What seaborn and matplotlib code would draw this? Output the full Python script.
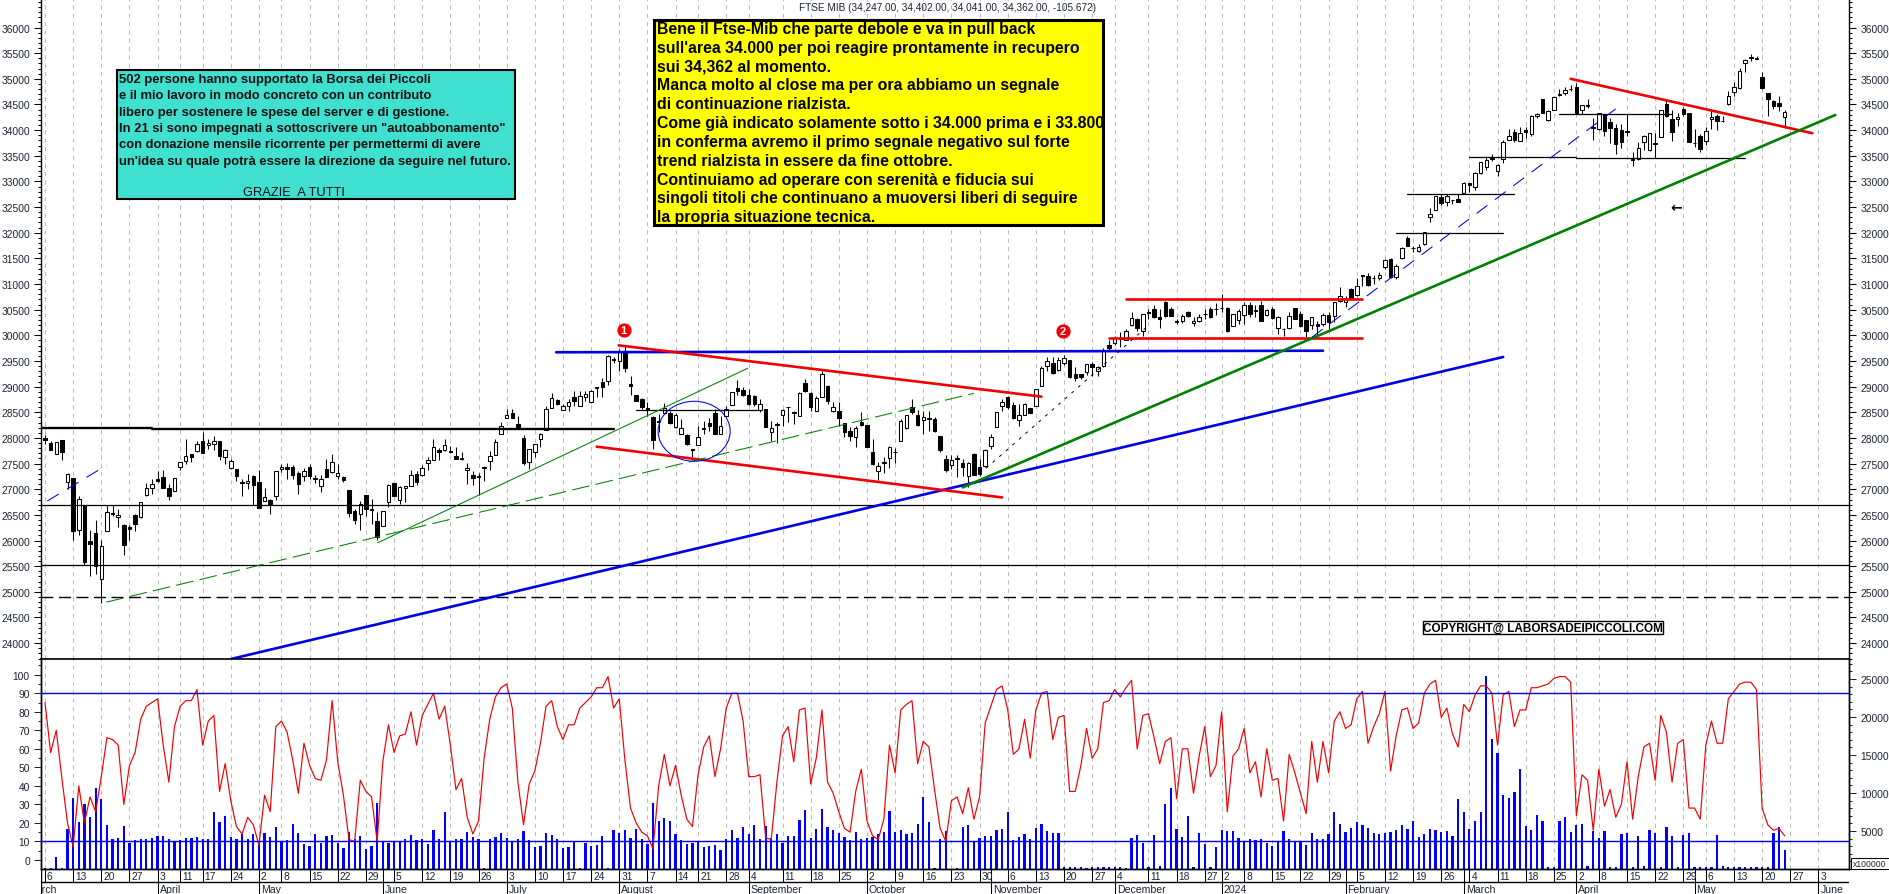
import pandas as pd
import seaborn as sns
from matplotlib import pyplot as plt
from matplotlib.patches import Ellipse, Rectangle
from matplotlib.ticker import MultipleLocator, FixedLocator

W, H = 1890, 895

# candles
opens = [27990,27900,27680,27960,27140,27210,26210,26690,25990,26150,
         25260,26190,26540,26460,26300,26270,26490,26460,26880,27020,
         27190,27245,27030,26965,27435,27545,27680,27740,27950,27860,
         27880,27935,27630,27410,27400,27140,27130,27250,27150,26780,
         26790,26870,27390,27440,27440,27320,27260,27440,27220,27060,
         27400,27340,27260,27245,26980,26580,26520,26880,26610,26390,
         26280,26750,27115,26790,27030,27060,27290,27280,27520,27570,
         27760,27770,27745,27650,27610,27380,27270,27265,27430,27550,
         27665,28085,28395,28495,28280,27990,27530,27730,27985,28160,
         28590,28745,28545,28620,28805,28630,28805,28700,28995,29100,
         29115,29540,29500,29700,29050,28840,28760,28580,28400,28330,
         28490,28480,28220,28080,28065,27780,27870,28190,28285,28480,
         28070,28435,28640,28975,28935,28830,28810,28550,28560,28110,
         28265,28450,28605,28505,28435,29070,28870,28530,28805,29005,
         28530,28525,28290,28135,28025,28310,28250,27720,27360,27530,
         27615,27735,27945,28185,28600,28450,28355,28385,28360,28040,
         27590,27465,27605,27520,27265,27680,27430,27445,27850,28220,
         28630,28805,28650,28355,28450,28580,28630,29020,29410,29460,
         29330,29465,29520,29255,29240,29290,29440,29310,29410,29820,
         29845,29945,29915,30210,30320,30090,30450,30515,30350,30645,
         30515,30270,30275,30450,30240,30285,30420,30515,30520,30535,
         30530,30190,30300,30400,30600,30485,30600,30400,30515,30150,
         30130,30135,30530,30420,30295,30205,30220,30215,30400,30385,
         30670,30645,30905,30795,31170,31165,31120,31120,31330,31490,
         31145,31500,31890,31705,31650,31775,32300,32435,32700,32595,
         32645,32655,32775,32960,32890,33160,33290,33455,33200,33440,
         33815,33960,33785,34005,33930,34270,34610,34200,34390,34705,
         34720,34810,34845,34395,34485,34060,34025,34305,34155,34045,
         34010,33980,33440,33430,33765,33615,33745,33875,34505,34220,
         34215,34415,34335,33755,33880,33780,34210,34285,34180,34510,
         34735,34820,35300,35425,35415,35030,34720,34565,34525,34247]
closes = [27960,27760,27920,27730,27290,26190,26810,25580,25930,25500,
          25890,26560,26510,26500,25910,26220,26330,26750,27030,27110,
          27170,27030,26870,27225,27530,27650,27620,27890,27700,27910,
          27950,27650,27760,27555,27260,27115,27170,27090,26640,26845,
          26720,27360,27440,27400,27285,27100,27360,27260,27195,27205,
          27240,27530,27320,27185,26530,26410,26720,26610,26590,26070,
          26580,27090,26870,27040,27060,27285,27140,27420,27575,27820,
          27730,27865,27730,27590,27585,27420,27225,27245,27410,27650,
          27925,28235,28455,28395,28220,27510,27790,27890,28075,28560,
          28780,28660,28630,28705,28715,28820,28860,28920,28970,28990,
          29600,29520,29700,29370,29010,28725,28600,28570,27965,28310,
          28575,28290,28440,28185,27880,27760,28010,28180,28240,28085,
          28230,28565,28890,28920,28840,28660,28655,28670,28220,28185,
          28245,28535,28595,28495,28885,28915,28600,28780,29240,28725,
          28595,28395,28120,28040,28185,28260,27830,27490,27460,27520,
          27830,27725,28335,28445,28510,28250,28400,28375,28130,27760,
          27380,27565,27595,27440,27520,27280,27300,27760,28010,28500,
          28695,28600,28380,28440,28655,28490,28950,29360,29490,29270,
          29520,29550,29180,29175,29180,29435,29375,29380,29690,29750,
          29940,29930,30090,30330,30135,30415,30430,30350,30320,30370,
          30385,30260,30385,30385,30285,30350,30410,30350,30510,30525,
          30080,30415,30470,30595,30420,30475,30270,30495,30330,30350,
          30120,30375,30320,30190,30090,30350,30175,30400,30255,30645,
          30760,30710,30725,30970,31160,30985,31110,31180,31465,31130,
          31350,31710,31735,31695,31715,32020,32360,32710,32575,32710,
          32635,32590,32965,32935,33160,33375,33425,33435,33325,33765,
          33895,33800,33940,33955,34285,34320,34340,34375,34640,34675,
          34785,34800,34335,34485,34475,34040,34330,33980,34040,33720,
          33765,33970,33420,33650,33895,33935,33720,34385,34285,33960,
          34265,34320,33760,33745,33635,33990,34265,34180,34170,34660,
          34840,35160,35375,35415,35395,34825,34610,34475,34465,34362]
highs = [28050,27940,27920,27960,27320,27210,26860,26690,26200,26400,
         26020,26690,26690,26620,26320,26300,26510,26750,27115,27190,
         27355,27370,27100,27225,27530,27975,27690,27940,28120,27970,
         28040,27935,27780,27580,27400,27190,27290,27270,27370,27020,
         26810,27360,27485,27520,27480,27350,27420,27500,27280,27280,
         27580,27680,27500,27260,26980,26610,26770,26880,26810,26555,
         26580,27100,27115,27060,27060,27370,27350,27470,27630,27975,
         27800,27975,27850,27830,27720,27520,27360,27320,27450,27750,
         27985,28320,28560,28570,28420,28050,27790,27890,28100,28620,
         28880,28760,28660,28750,28915,28915,28915,28925,28995,29165,
         29610,29580,29730,29820,29200,28840,28775,28710,28430,28460,
         28690,28530,28480,28360,28080,27780,28225,28330,28380,28565,
         28430,28630,28890,29130,28985,28955,28840,28760,28560,28335,
         28305,28565,28610,28530,28900,29150,28890,28825,29310,29030,
         28705,28695,28290,28205,28235,28500,28250,27980,27525,27620,
         27850,27810,28365,28445,28760,28540,28530,28530,28400,28040,
         27660,27660,27670,27590,27540,27700,27590,27785,28085,28500,
         28760,28825,28695,28660,28680,28580,28950,29410,29585,29570,
         29570,29615,29520,29380,29255,29440,29475,29410,29745,29900,
         29995,30060,30120,30460,30330,30425,30515,30590,30515,30660,
         30545,30310,30415,30470,30350,30415,30515,30545,30640,30800,
         30545,30415,30515,30650,30650,30600,30675,30515,30550,30385,
         30140,30450,30530,30470,30295,30350,30285,30430,30450,30645,
         30940,30775,30920,31110,31170,31210,31170,31230,31490,31500,
         31400,31720,31945,31750,31780,32020,32480,32710,32755,32755,
         32645,32755,32985,32965,33180,33385,33505,33530,33345,33810,
         34025,34025,34055,34055,34300,34340,34610,34385,34660,34805,
         34835,34870,34910,34490,34610,34240,34335,34320,34240,34125,
         34125,34320,33580,33765,33910,33945,33945,34400,34580,34385,
         34335,34450,34335,34025,33925,34055,34415,34320,34270,34770,
         34935,35205,35390,35485,35440,35140,34725,34595,34660,34402]
lows = [27880,27760,27680,27570,27000,26010,26100,25530,25300,25350,
        24790,26190,26470,26260,25720,26020,26190,26440,26870,26900,
        27140,27030,26800,26965,27370,27490,27530,27720,27700,27780,
        27760,27570,27490,27400,27170,26870,27010,26700,26640,26780,
        26510,26800,27330,27205,27200,26900,27160,27200,27120,26945,
        27240,27320,27190,27140,26460,26315,26205,26480,26320,26020,
        26280,26650,26870,26710,26760,27060,27090,27260,27370,27570,
        27570,27745,27710,27590,27570,27095,27080,26880,27170,27370,
        27665,28085,28390,28380,28200,27480,27390,27630,27830,28160,
        28590,28650,28545,28520,28620,28620,28715,28680,28790,28800,
        29040,29465,29310,29290,28845,28725,28565,28430,27780,28110,
        28480,28270,28200,28070,27870,27620,27870,28070,28130,28080,
        28070,28435,28640,28840,28825,28640,28630,28500,28205,27945,
        27900,28240,28320,28280,28435,28890,28520,28530,28790,28660,
        28500,28240,28010,27950,27830,28240,27815,27480,27180,27320,
        27420,27510,27945,28175,28465,28240,28075,28135,28125,27735,
        27330,27400,27230,27265,27050,27270,27265,27430,27785,28205,
        28530,28565,28370,28225,28440,28480,28630,29005,29305,29255,
        29310,29430,29165,29110,29140,29225,29210,29200,29390,29705,
        29820,29765,29915,30180,30090,29990,30320,30330,30150,30350,
        30370,30220,30240,30350,30190,30255,30320,30330,30400,30450,
        30060,30180,30220,30230,30355,30350,30270,30385,30320,30025,
        29990,30130,30310,30160,29960,30125,29990,30190,30125,30255,
        30645,30560,30710,30775,30970,30970,31000,31070,31295,31115,
        31100,31490,31735,31620,31620,31770,32215,32435,32550,32530,
        32560,32590,32755,32790,32840,33150,33230,33390,33110,33360,
        33800,33765,33780,33850,33890,34240,34325,34185,34390,34660,
        34690,34755,34335,34320,34440,33810,34010,33895,33745,33540,
        33660,33895,33310,33410,33610,33600,33460,33875,34265,33790,
        34090,34285,33760,33665,33570,33715,34025,34000,34165,34490,
        34660,34805,35130,35340,35390,34805,34285,34410,34380,34041]

# oscillator and volume, one value per bar
oscillator = [85,58,70,44,20,7,40,20,34,26,45,66,65,62,30,51,58,76,83,85,
              87,62,42,72,83,86,86,92,62,75,78,37,52,32,18,14,23,19,8,35,
              26,72,75,69,54,36,63,51,44,43,54,86,53,35,11,10,43,37,34,10,
              53,73,58,67,68,80,62,78,84,90,76,83,62,38,44,23,14,21,55,76,
              88,93,95,82,42,19,41,48,63,83,86,72,65,73,73,82,85,88,93,93,
              99,82,87,54,
              28,20,15,13,6,40,57,40,51,35,22,18,46,61,67,45,60,82,90,90,
              75,45,45,46,12,11,42,67,72,53,81,82,41,55,81,42,36,26,17,15,
              37,49,21,13,11,22,62,47,81,84,86,52,64,61,38,17,10,32,34,25,
              39,22,34,74,83,92,94,81,57,60,76,55,81,90,91,65,77,78,37,37,
              51,71,55,60,85,86,92,88,93,97,60,78,79,66,52,64,66,33,60,60,
              36,56,72,45,51,80,26,56,60,71,47,53,34,
              60,43,44,21,57,47,36,25,64,42,64,47,75,80,71,73,87,91,63,72,
              79,91,48,67,81,82,71,74,90,95,97,77,82,68,61,84,80,89,94,94,
              90,62,89,91,72,81,81,93,93,94,95,98,99,99,96,24,46,43,16,49,
              29,38,23,30,53,22,45,61,63,43,78,69,42,63,65,28,28,22,62,75,
              63,63,87,91,95,96,96,92,28,19,16,17,13]
volume = [90,90,1635,130,5300,9400,6200,8600,6900,10700,
          9150,5830,3900,4070,5660,3450,3800,3930,3930,4100,
          4380,4290,3980,3710,3800,4110,4070,4240,3980,3980,
          7560,6190,7030,4240,3980,4640,3980,4640,3400,4770,
          4240,5570,3620,3800,5970,4770,3320,3050,4640,3360,
          4380,4510,3450,2790,4860,3890,4330,2650,3010,8710,
          3670,3450,3670,3620,3890,4420,3800,3980,3320,5130,
          3980,7510,3620,3930,3930,4860,4240,3980,90,3930,
          4200,4770,4070,3620,3890,4990,3800,2920,3090,4730,
          4510,3980,2790,2870,3620,90,3360,3090,3180,4380,
          90,5130,4770,5130,
          4110,5220,3980,3320,8620,6360,6720,6360,4550,3760,
          3320,3450,3670,2960,3010,3180,2520,3980,5170,4110,
          5570,4640,5790,3980,5700,4110,4640,3450,4380,4380,
          6450,7780,4110,5300,7960,5530,5170,4770,4200,3800,
          4910,3930,4110,4240,4640,4910,7690,4910,5170,4640,
          4770,5970,9410,6230,90,3980,4950,0,90,5570,
          5830,3670,4110,4380,4330,5170,5300,7510,3850,4240,
          4600,3930,5440,5920,5040,4770,4770,265,265,265,
          220,180,220,265,220,220,220,265,180,4070,
          4420,3400,220,4510,350,8570,10610,5260,4200,6980,
          220,4770,3320,220,2920,5170,4990,4990,4110,3710,
          3930,3800,3980,
          3400,3090,3670,5040,3980,3620,3540,3180,4770,3980,
          3930,4640,7510,5970,4820,5440,6230,5790,5390,4770,
          4640,4770,4910,5170,5830,5300,6320,4200,4600,5300,
          5170,4910,5040,4330,9240,7510,5300,6320,7510,25400,
          17100,15250,9770,9280,10080,13130,5660,5130,7160,6360,
          265,265,6360,6900,4910,5830,5970,350,5040,4110,
          4990,265,265,4640,4770,220,4380,400,5170,4770,
          265,5570,4380,220,4420,4770,265,265,265,265,
          4460,350,265,265,265,265,265,265,265,220,
          4770,5570,2470]

# date axis, ticks given as bar numbers
week_bars = [0,5,10,15,20,24,28,33,38,42,47,52,57,62,67,72,77,82,87,92,97,102,
             107,112,116,121,125,131,136,141,146,151,156,161,166,171,176,181,186,190,196,201,206,209,213,
             218,223,228,233,238,243,248,253,258,263,268,272,276,281,286,291,295,300,305,310,315]
week_labels = ['6','13','20','27','3','11','17','24','2','8','15','22','29','5','12','19','26','3','10','17','24','31',
               '7','14','21','28','4','11','18','25','2','9','16','23','30','6','13','20','27','4','11','18','27','2','8',
               '15','22','29','5','12','19','26','4','11','18','25','2','8','15','22','29','6','13','20','27','3']
month_bars = [2,20,38,60,82,102,125,146,168,190,209,231,252,272,293,315]
month_labels = ['March','April','May','June','July','August','September','October','November','December',
                '2024','February','March','April','May','June']
price_ticks = list(range(24000, 36001, 500))
osc_ticks = list(range(0, 101, 10))
vol_ticks = [5000, 10000, 15000, 20000, 25000]

# drawn lines: (bar, price, bar, price)
black_levels = [26700, 25520]
dashed_level = [24905]
resistance_black = [(-0.71,28190,19,28190),(19,28170,101,28170)]
short_black = [(105,28545,127,28545),(240,31990,259,31990),(242,32750,261,32750),
               (253,33470,272,33470),(272,33450,302,33450),(269,34310,289,34310)]
blue_thick = [(33,23690,259,29578),(90.8,29670,227,29700)]
red_thick = [(101.9,29805,177,28805),(98,27830,170,26840),(192,30710,234,30710),
             (189,29950,234,29950),(271,35000,313.9,33940)]
green_thick = [(163,27036,318,34295)]
green_thin = [(59.1,25957,124.8,29357)]
green_dashed = [(10.9,24800,165,28870)]
blue_dashed = [(0.4,26770,10.9,27465),(225,29960,279,34415)]
black_dotted = [(166,27296,195.6,30155)]

title = 'FTSE MIB (34,247.00, 34,402.00, 34,041.00, 34,362.00, -105.672)'
yellow_text = ["Bene il Ftse-Mib che parte debole e va in pull back",
               "sull'area 34.000 per poi reagire prontamente in recupero",
               "sui 34,362 al momento.",
               "Manca molto al close ma per ora abbiamo un segnale",
               "di continuazione rialzista.",
               "Come già indicato solamente sotto i 34.000 prima e i 33.800",
               "in conferma avremo il primo segnale negativo sul forte",
               "trend rialzista in essere da fine ottobre.",
               "Continuiamo ad operare con serenità e fiducia sui",
               "singoli titoli che continuano a muoversi liberi di seguire",
               "la propria situazione tecnica."]
teal_text = ["502 persone hanno supportato la Borsa dei Piccoli",
             "e il mio lavoro in modo concreto con un contributo",
             "libero per sostenere le spese del server e di gestione.",
             'In 21 si sono impegnati a sottoscrivere un "autoabbonamento"',
             "con donazione mensile ricorrente per permettermi di avere",
             "un'idea su quale potrà essere la direzione da seguire nel futuro."]

sns.set_style('white')
plt.rcParams['font.family'] = ['Liberation Sans', 'DejaVu Sans']
TXT = '#1c2436'

bars = list(range(len(opens)))
candles = pd.DataFrame({'bar': bars, 'open': opens, 'close': closes, 'high': highs, 'low': lows})
lower = pd.DataFrame({'bar': bars, 'osc': oscillator, 'vol': volume})

fig = plt.figure(figsize=(W / 100, H / 100), dpi=100, facecolor='white')
ax = fig.add_axes([41 / W, 1 - 660 / H, 1808 / W, 660 / H])
ax_vol = fig.add_axes([41 / W, 1 - 870 / H, 1808 / W, 210 / H])
ax_dates = fig.add_axes([41 / W, 0, 1808 / W, 25 / H])
xlim = (-0.71, 320.43)

# grid goes under everything
for a in (ax, ax_vol):
    a.vlines(week_bars, 0, 1, transform=a.get_xaxis_transform(), color='#bdbdbd', lw=0.75,
             linestyles=(0, (4, 4)), zorder=0)

# candles
ax.vlines(candles['bar'], candles['low'], candles['high'], color='black', lw=0.75, zorder=2)
up = candles[candles['close'] >= candles['open']]
down = candles[candles['close'] < candles['open']]
ax.bar(up['bar'], up['close'] - up['open'], bottom=up['open'], width=0.62, color='white',
       edgecolor='black', linewidth=0.75, zorder=3)
ax.bar(down['bar'], down['open'] - down['close'], bottom=down['close'], width=0.62, color='black',
       edgecolor='black', linewidth=0.75, zorder=3)


def draw(segments, **kw):
    for x0, y0, x1, y1 in segments:
        ax.plot([x0, x1], [y0, y1], zorder=4, **kw)


for level in black_levels:
    ax.axhline(level, color='black', lw=0.9, zorder=4)
for level in dashed_level:
    ax.axhline(level, color='black', lw=1, linestyle=(0, (8.6, 4)), zorder=4)
draw(resistance_black, color='black', lw=1.7)
draw(short_black, color='black', lw=0.9)
draw(blue_thick, color='#0000e6', lw=1.9)
draw(red_thick, color='#f00000', lw=1.9)
draw(green_thick, color='#008000', lw=1.9)
draw(green_thin, color='#008000', lw=0.75)
draw(green_dashed, color='#008000', lw=0.75, linestyle=(0, (17, 6)))
draw(blue_dashed, color='#0000e6', lw=0.75, linestyle=(0, (13, 9)))
draw(black_dotted, color='black', lw=0.7, linestyle=(0, (3, 6)))
ax.add_patch(Ellipse((115.3, 28130), 12.8, 1170, fill=False, edgecolor='#0000e6', lw=0.75, zorder=4))
ax.scatter([102.8, 180.8], [30100, 30090], s=105, color='#f00000', zorder=5, linewidths=0)
ax.text(102.8, 30100, '1', color='white', fontsize=8, fontweight='bold', ha='center', va='center', zorder=6)
ax.text(180.8, 30090, '2', color='white', fontsize=8, fontweight='bold', ha='center', va='center', zorder=6)
ax.text(289.7, 32510, '←', color='black', fontsize=10, fontweight='bold', ha='center', va='center',
        family='DejaVu Sans', zorder=6)

ax.set_xlim(xlim)
ax.set_ylim(23691, 36556)
ax.xaxis.set_visible(False)
ax.yaxis.set_major_locator(FixedLocator(price_ticks))
ax.yaxis.set_minor_locator(MultipleLocator(100))
ax.tick_params(axis='y', which='major', left=True, right=True, labelleft=True, labelright=True,
               length=5, width=0.75, labelsize=7.4, labelcolor=TXT, pad=3, color='black')
ax.tick_params(axis='y', which='minor', left=True, right=True, length=2.5, width=0.75, color='black')
for s in ax.spines.values():
    s.set_color('black')
    s.set_linewidth(1)
ax.spines['top'].set_visible(False)

# volume with right scale, oscillator with left scale on top of it
sns.barplot(data=lower, x='bar', y='vol', native_scale=True, width=0.4, color='#0000ff', saturation=1,
            errorbar=None, ax=ax_vol, zorder=2)
for p in ax_vol.patches:
    p.set_antialiased(False)
    p.set_linewidth(0)
ax_osc = ax_vol.twinx()
sns.lineplot(data=lower, x='bar', y='osc', color='#f00000', lw=0.85, errorbar=None, ax=ax_osc, zorder=3)
ax_osc.axhline(90, color='#0000e6', lw=1, zorder=4)
ax_osc.axhline(10, color='#0000e6', lw=1, zorder=4)

ax_vol.set_xlim(xlim)
ax_vol.set_ylim(0, 27630)
ax_vol.set_xlabel('')
ax_vol.set_ylabel('')
ax_vol.xaxis.set_visible(False)
ax_vol.yaxis.tick_right()
ax_vol.set_yticks(vol_ticks)
ax_vol.yaxis.set_major_formatter('{x:.0f}')
ax_vol.yaxis.set_minor_locator(MultipleLocator(1000))
ax_vol.tick_params(axis='y', which='major', left=False, right=True, labelleft=False, labelright=True,
                   length=5, width=0.75, labelsize=7.4, labelcolor=TXT, pad=3)
ax_vol.tick_params(axis='y', which='minor', left=False, right=True, length=2.5, width=0.75)

ax_osc.set_xlim(xlim)
ax_osc.set_ylim(-4.9, 108.5)
ax_osc.set_xlabel('')
ax_osc.set_ylabel('')
ax_osc.yaxis.tick_left()
ax_osc.set_yticks(osc_ticks)
ax_osc.yaxis.set_minor_locator(MultipleLocator(5))
ax_osc.tick_params(axis='y', which='major', left=True, right=False, labelleft=True, labelright=False,
                   length=5, width=0.75, labelsize=7.4, labelcolor=TXT, pad=3)
ax_osc.tick_params(axis='y', which='minor', left=True, right=False, length=2.5, width=0.75)
for a in (ax_vol, ax_osc):
    for s in a.spines.values():
        s.set_color('black')
        s.set_linewidth(1)
# the pane border has to sit on top of the lower pane's background
ax_vol.spines['top'].set_visible(False)
ax_osc.spines['top'].set_visible(True)
ax_osc.spines['top'].set_linewidth(1.2)

# two date rows under the panes
ax_dates.set_xlim(xlim)
ax_dates.set_ylim(25, 0)
ax_dates.axis('off')
ax_dates.hlines(13, *xlim, color='black', lw=1)
ax_dates.vlines(week_bars, 0, 13, color='black', lw=0.75)
ax_dates.vlines(month_bars[1:], 0, 25, color='black', lw=0.75)
ax_dates.vlines(xlim[0], 0, 25, color='black', lw=1)
for b, lab in zip(week_bars, week_labels):
    ax_dates.text(b + 0.35, 7, lab, fontsize=7.4, color=TXT, ha='left', va='center', clip_on=True)
ax_dates.text(month_bars[0], 20.5, month_labels[0], fontsize=7.6, color=TXT, ha='right', va='center', clip_on=True)
for b, lab in zip(month_bars[1:], month_labels[1:]):
    ax_dates.text(b + 0.35, 20.5, lab, fontsize=7.6, color=TXT, ha='left', va='center', clip_on=True)


def fx(x):
    return x / W


def fy(y):
    return 1 - y / H


# boxes and text sit on the figure
fig.text(fx(799), fy(8), title, fontsize=7.2, color=TXT, va='center', ha='left')
fig.add_artist(Rectangle((fx(654), fy(226)), 449 / W, 205 / H, transform=fig.transFigure, facecolor='#ffff00',
                         edgecolor='black', linewidth=2.2, zorder=5))
for i, line in enumerate(yellow_text):
    fig.text(fx(657), fy(29.5 + 18.83 * i), line, fontsize=11.4, fontweight='bold', color='black', va='center',
             ha='left', zorder=6)
fig.add_artist(Rectangle((fx(117), fy(200)), 398 / W, 129 / H, transform=fig.transFigure, facecolor='#40e0d0',
                         edgecolor='black', linewidth=1.5, zorder=5))
for i, line in enumerate(teal_text):
    fig.text(fx(119.5), fy(80 + 16.35 * i), line, fontsize=9.35, fontweight='bold', color='#101010', va='center',
             ha='left', zorder=6)
fig.text(fx(243), fy(193), 'GRAZIE  A TUTTI', fontsize=9.3, color='#101010', va='center', ha='left', zorder=6)

fig.add_artist(Rectangle((fx(1423), fy(635)), 240 / W, 13.5 / H, transform=fig.transFigure, facecolor='white',
                         edgecolor='black', linewidth=1, zorder=5))
fig.text(fx(1543), fy(628.3), 'COPYRIGHT@ LABORSADEIPICCOLI.COM', fontsize=8.5, fontweight='bold', color='black',
         va='center', ha='center', zorder=6)

fig.add_artist(Rectangle((fx(1851), fy(870)), 40 / W, 11 / H, transform=fig.transFigure, facecolor='white',
                         edgecolor='black', linewidth=0.75, zorder=5))
fig.text(fx(1853), fy(865), 'x100000', fontsize=6.2, color=TXT, va='center', ha='left', zorder=6)

fig.savefig('out.png', dpi=100)
